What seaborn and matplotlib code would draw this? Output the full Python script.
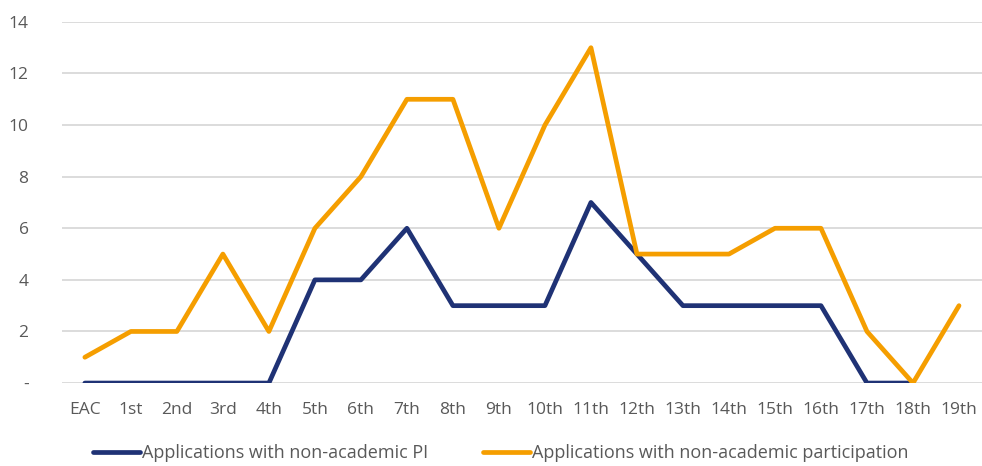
import numpy as np
import pandas as pd
import matplotlib
matplotlib.use("Agg")
import matplotlib.pyplot as plt
import seaborn as sns

categories = ["EAC", "1st", "2nd", "3rd", "4th", "5th", "6th", "7th", "8th", "9th",
              "10th", "11th", "12th", "13th", "14th", "15th", "16th", "17th", "18th", "19th"]
pi_values = [0, 0, 0, 0, 0, 4, 4, 6, 3, 3, 3, 7, 5, 3, 3, 3, 3, 0, 0, np.nan]
participation_values = [1, 2, 2, 5, 2, 6, 8, 11, 11, 6, 10, 13, 5, 5, 5, 6, 6, 2, 0, 3]
series_names = ["Applications with non-academic PI", "Applications with non-academic participation"]
y_ticks = [0, 2, 4, 6, 8, 10, 12, 14]
y_tick_labels = ["-", "2", "4", "6", "8", "10", "12", "14"]

sns.set_theme(style="white")
plt.rcParams['font.family'] = ['Open Sans', 'DejaVu Sans']

x = np.arange(len(categories))
df = pd.DataFrame({
    "x": np.concatenate([x, x]),
    "value": pi_values + participation_values,
    "series": [series_names[0]] * len(x) + [series_names[1]] * len(x),
})

fig = plt.figure(figsize=(9.82, 4.66), dpi=100)
ax = fig.add_axes([0.063, 0.178, 0.937, 0.775])

palette = {series_names[0]: "#1F3275", series_names[1]: "#F59E00"}
sns.lineplot(data=df, x="x", y="value", hue="series", palette=palette,
             linewidth=3.4, ax=ax, sort=False, estimator=None)

ax.set_xlim(-0.5, len(categories) - 0.5)
ax.set_ylim(0, 14)
ax.set_yticks(y_ticks)
ax.set_yticklabels(y_tick_labels)
ax.set_xticks(x)
ax.set_xticklabels(categories)
ax.yaxis.grid(True, color="#D9D9D9", linewidth=1.3)
ax.set_axisbelow(True)
for s in ax.spines.values():
    s.set_visible(False)
ax.tick_params(axis="both", length=0, colors="#595959", labelsize=12.5)
ax.tick_params(axis="y", pad=24)
ax.tick_params(axis="x", pad=14)
ax.set_xlabel("")
ax.set_ylabel("")

handles, labels = ax.get_legend_handles_labels()
ax.legend(handles, labels, loc="center", bbox_to_anchor=(0.51, 0.028),
          bbox_transform=fig.transFigure,
          ncol=2, frameon=False, fontsize=13, handlelength=2.6, handletextpad=0.15,
          columnspacing=3.0, labelcolor="#595959")

fig.savefig("out.png", dpi=100)
